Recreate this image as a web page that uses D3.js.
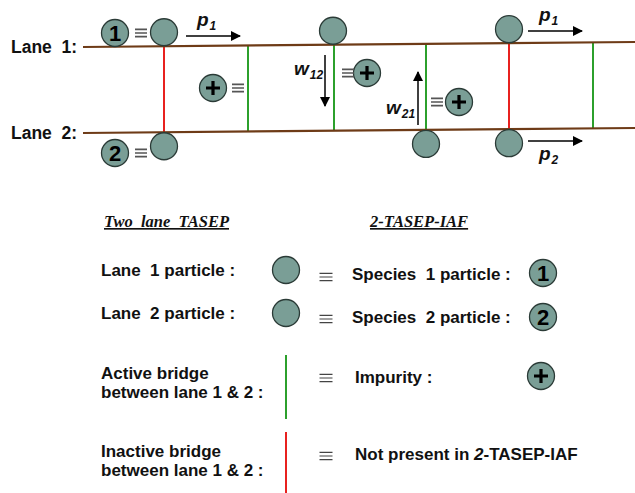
<!DOCTYPE html>
<html><head><meta charset="utf-8">
<script src="https://cdn.jsdelivr.net/npm/d3@7"></script>
<style>body{margin:0;background:#fff}svg{display:block}</style>
</head><body>
<script>
// ---- data ----
const laneLabels = ["Lane  1:", "Lane  2:"];
const laneEnds = [[47, 42], [133, 128]];           // lane y at left / right end
const bridges = [
  {x: 164, active: false}, {x: 248, active: true}, {x: 334, active: true},
  {x: 426, active: true}, {x: 509, active: false}, {x: 593, active: true}
];
const particles = [
  {x: 164, lane: 0, side: "up"}, {x: 333, lane: 0, side: "up"}, {x: 509, lane: 0, side: "up"},
  {x: 164, lane: 1, side: "down"}, {x: 426, lane: 1, side: "down"}, {x: 509, lane: 1, side: "down"}
];
const species = [
  {x: 115, y: 33, label: "1"}, {x: 115, y: 153, label: "2"},
  {x: 213, y: 88, label: "+"}, {x: 367, y: 73, label: "+"}, {x: 459, y: 102, label: "+"}
];
const equivs = [{x: 141, y: 33}, {x: 141, y: 153}, {x: 238, y: 88}, {x: 348, y: 73}, {x: 437, y: 102}];
const hArrows = [
  {x1: 186, x2: 240, y: 36, lab: "p", sub: "1", ly: 26},
  {x1: 528, x2: 582, y: 31, lab: "p", sub: "1", ly: 21},
  {x1: 528, x2: 582, y: 141, lab: "p", sub: "2", ly: 160}
];
const vArrows = [
  {x: 325, y1: 55, y2: 106, lab: "w", sub: "12", lx: 294, ly: 75},
  {x: 418, y1: 125, y2: 72, lab: "w", sub: "21", lx: 386, ly: 114}
];
const headers = [{x: 104, text: "Two  lane  TASEP"}, {x: 370, text: "2-TASEP-IAF"}];
const legendLeft = [
  {lines: ["Lane  1 particle :"], y: 276, mark: "circle", my: 270, ey: 277},
  {lines: ["Lane  2 particle :"], y: 319, mark: "circle", my: 313, ey: 319},
  {lines: ["Active bridge", "between lane 1 & 2 :"], y: 379, mark: "green", my: [355, 419], ey: 378},
  {lines: ["Inactive bridge", "between lane 1 & 2 :"], y: 457, mark: "red", my: [432, 493], ey: 456}
];
const legendRight = [
  {text: "Species  1 particle :", y: 280, sym: "1", sy: 273, sx: 543},
  {text: "Species  2 particle :", y: 323, sym: "2", sy: 317, sx: 543},
  {text: "Impurity :", y: 383, sym: "+", sy: 376, sx: 541},
  {text: "Not present in 2-TASEP-IAF", y: 460, sym: null}
];

// ---- drawing ----
const W = 635, H = 493;
const svg = d3.select("body").append("svg").attr("width", W).attr("height", H);
const fill = "#7a9e96", stroke = "#2b3b37";
const xs = d3.scaleLinear().domain([83, 635]).range([83, 635]);
const laneY = laneEnds.map(e => d3.scaleLinear().domain([83, 635]).range(e));
const sans = "Liberation Sans, Arial, sans-serif";

const defs = svg.append("defs");
defs.append("marker").attr("id", "ahb").attr("viewBox", "0 0 10 10")
  .attr("refX", 9).attr("refY", 5).attr("markerWidth", 13).attr("markerHeight", 10)
  .attr("markerUnits", "userSpaceOnUse").attr("orient", "auto")
  .append("path").attr("d", "M0,0L10,5L0,10Z").attr("fill", "#000");

function equiv(g, x, y, w, gap, sw, col) {
  g.append("path")
    .attr("d", [-gap, 0, gap].map(o => `M${x - w / 2},${y + o}H${x + w / 2}`).join(""))
    .attr("stroke", col).attr("stroke-width", sw).attr("fill", "none");
}

// bridges
svg.selectAll(".br").data(bridges).join("line")
  .attr("x1", d => xs(d.x)).attr("x2", d => xs(d.x))
  .attr("y1", d => laneY[0](d.x)).attr("y2", d => laneY[1](d.x))
  .attr("stroke", d => d.active ? "#2ca02c" : "#e8211f").attr("stroke-width", 2);

// lanes
svg.selectAll(".lane").data(laneEnds).join("line")
  .attr("x1", 83).attr("x2", 635).attr("y1", d => d[0]).attr("y2", d => d[1])
  .attr("stroke", "#6e3b17").attr("stroke-width", 2.2);
svg.selectAll(".lanelab").data(laneLabels).join("text")
  .attr("x", 11).attr("y", (d, i) => laneEnds[i][0] + 6)
  .attr("font-family", sans).attr("font-weight", "bold").attr("font-size", 17.5)
  .attr("fill", "#111").style("white-space", "pre").text(d => d);

// particles
svg.selectAll(".pt").data(particles).join("circle")
  .attr("cx", d => xs(d.x))
  .attr("cy", d => laneY[d.lane](d.x) + (d.side === "up" ? -14 : 14))
  .attr("r", 13.5).attr("fill", fill).attr("stroke", stroke).attr("stroke-width", 1.3);

function symbol(g, x, y, label, r) {
  g.append("circle").attr("cx", x).attr("cy", y).attr("r", r)
    .attr("fill", fill).attr("stroke", stroke).attr("stroke-width", 1.3);
  if (label === "+") {
    g.append("path").attr("d", `M${x-7},${y}H${x+7}M${x},${y-7}V${y+7}`)
      .attr("stroke", "#000").attr("stroke-width", 3.2);
  } else {
    g.append("text").attr("x", x).attr("y", y + 8).attr("text-anchor", "middle")
      .attr("font-family", sans).attr("font-weight", "bold").attr("font-size", 22)
      .attr("fill", "#000").text(label);
  }
}
species.forEach(s => symbol(svg, xs(s.x), s.y, s.label, 13.5));

equivs.forEach(e => equiv(svg, xs(e.x), e.y, 12, 3.6, 1.6, "#555"));

// arrows
svg.selectAll(".ha").data(hArrows).join("line")
  .attr("x1", d => xs(d.x1)).attr("x2", d => xs(d.x2)).attr("y1", d => d.y).attr("y2", d => d.y)
  .attr("stroke", "#000").attr("stroke-width", 1.5).attr("marker-end", "url(#ahb)");
svg.selectAll(".va").data(vArrows).join("line")
  .attr("x1", d => d.x).attr("x2", d => d.x).attr("y1", d => d.y1).attr("y2", d => d.y2)
  .attr("stroke", "#000").attr("stroke-width", 1.5).attr("marker-end", "url(#ahb)");

function rateLabel(x, y, lab, sub) {
  const t = svg.append("text").attr("x", x).attr("y", y)
    .attr("font-family", sans).attr("font-weight", "bold").attr("font-style", "italic").attr("fill", "#111");
  t.append("tspan").attr("font-size", 19).text(lab);
  t.append("tspan").attr("font-size", 12).attr("dx", 1).attr("dy", 4).text(sub);
}
hArrows.forEach(a => rateLabel(xs(a.x1) + 11, a.ly, a.lab, a.sub));
vArrows.forEach(a => rateLabel(a.lx, a.ly, a.lab, a.sub));

// legend headers
svg.selectAll(".hd").data(headers).join("text")
  .attr("x", d => d.x).attr("y", 227)
  .attr("font-family", "Liberation Serif, Times New Roman, serif").attr("font-weight", "bold")
  .attr("font-style", "italic").attr("font-size", 16.5).attr("fill", "#111")
  .attr("text-decoration", "underline").style("white-space", "pre").text(d => d.text);

// legend left column
const lf = svg.append("g");
legendLeft.forEach(r => {
  r.lines.forEach((l, i) => lf.append("text").attr("x", 101).attr("y", r.y + i * 19)
    .attr("font-family", sans).attr("font-weight", "bold").attr("font-size", 17)
    .attr("fill", "#111").style("white-space", "pre").text(l));
  if (r.mark === "circle") {
    lf.append("circle").attr("cx", 286).attr("cy", r.my).attr("r", 13.5)
      .attr("fill", fill).attr("stroke", stroke).attr("stroke-width", 1.3);
  } else {
    lf.append("line").attr("x1", 286).attr("x2", 286).attr("y1", r.my[0]).attr("y2", r.my[1])
      .attr("stroke", r.mark === "green" ? "#2ca02c" : "#e8211f").attr("stroke-width", 2);
  }
  equiv(lf, 326, r.ey, 13, 3.6, 1.2, "#444");
});

// legend right column
legendRight.forEach(r => {
  const t = svg.append("text").attr("x", r.text.startsWith("Spec") ? 352 : 355).attr("y", r.y)
    .attr("font-family", sans).attr("font-weight", "bold").attr("font-size", 17)
    .attr("fill", "#111").style("white-space", "pre");
  if (r.text.startsWith("Not")) {
    t.append("tspan").text("Not present in ");
    t.append("tspan").attr("font-style", "italic").text("2");
    t.append("tspan").text("-TASEP-IAF");
  } else t.text(r.text);
  if (r.sym) symbol(svg, r.sx, r.sy, r.sym, 13.5);
});
</script>
</body></html>
